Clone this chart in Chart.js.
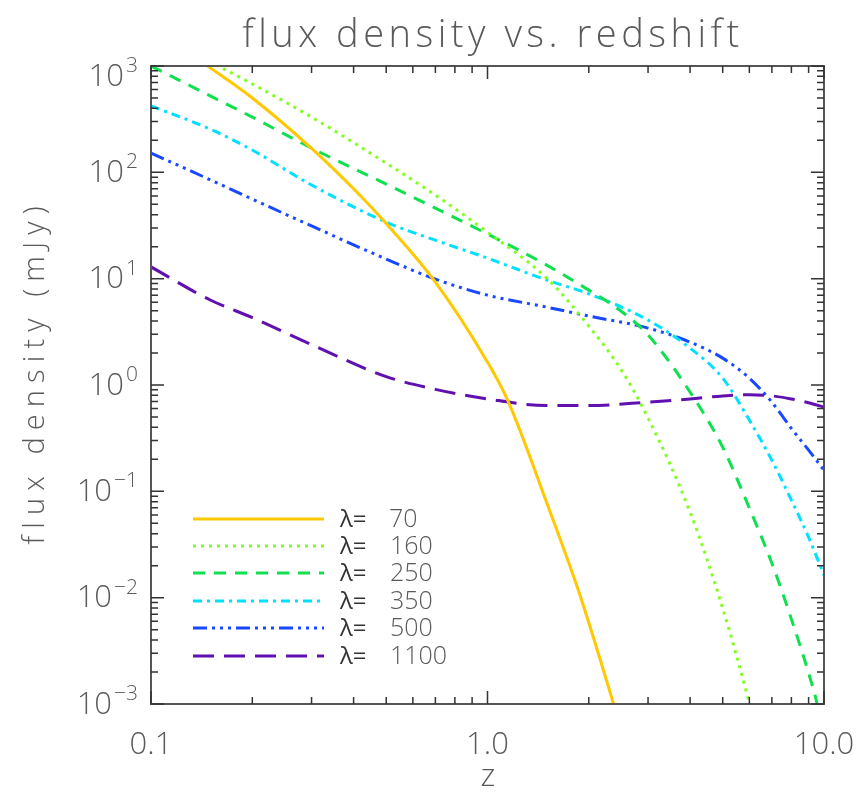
<!DOCTYPE html>
<html>
<head>
<meta charset="utf-8">
<script src="https://cdn.jsdelivr.net/npm/chart.js@4"></script>
<style>
html, body { margin: 0; padding: 0; background: #fff; }
#wrap { width: 862px; height: 795px; }
</style>
</head>
<body>
<div id="wrap"><canvas id="c" width="862" height="795"></canvas></div>
<script>
// wavelengths (micron) of the curves
const lambdas = [70, 160, 250, 350, 500, 1100];

// redshift samples and flux density (mJy)
const z70 = [0.1, 0.15, 0.2, 0.3, 0.4, 0.5, 0.7, 1.0, 1.15, 1.5, 1.88, 2.37, 2.6];
const f70 = [2300, 960, 500, 168, 70, 33, 9.3, 1.64, 0.71, 0.078, 0.0107, 0.001, 0.00037];

const z160 = [0.1, 0.15, 0.2, 0.3, 0.5, 0.7, 1.0, 1.5, 2.0, 2.5, 3, 4, 5, 6, 6.5];
const f160 = [2000, 1090, 678, 331, 122, 61, 27.4, 10.1, 3.58, 1.38, 0.489, 0.0637, 0.00796, 0.00102, 0.00037];

const z250 = [0.1, 0.15, 0.2, 0.3, 0.5, 0.7, 1.0, 1.5, 2, 2.47, 3, 4, 5, 6, 7, 8, 9, 9.57, 9.8];
const f250 = [1000, 523, 331, 169, 77.6, 46.1, 26.3, 13.4, 7.8, 5.07, 2.95, 0.857, 0.26, 0.0695, 0.0211, 0.00628, 0.00195, 0.00095, 0.0006];

const z350 = [0.1, 0.15, 0.2, 0.3, 0.5, 0.7, 1.0, 1.5, 2, 3, 4, 5, 6, 7, 8, 9, 10];
const f350 = [421, 255, 162, 76, 34, 23, 15.6, 9.7, 7.2, 4.08, 2.22, 1.16, 0.468, 0.196, 0.0826, 0.037, 0.0163];

const z500 = [0.1, 0.15, 0.2, 0.3, 0.5, 0.7, 1.0, 1.5, 2, 3, 4, 5, 6, 7, 8, 9, 10];
const f500 = [152, 85, 56, 31.3, 15.3, 9.9, 7.0, 5.4, 4.45, 3.43, 2.53, 1.79, 1.16, 0.69, 0.39, 0.244, 0.158];

const z1100 = [0.1, 0.15, 0.2, 0.3, 0.5, 0.7, 1.0, 1.5, 2, 3, 4, 5, 6, 7, 8, 9, 10];
const f1100 = [12.9, 6.3, 4.3, 2.4, 1.2, 0.91, 0.74, 0.64, 0.64, 0.69, 0.74, 0.79, 0.81, 0.79, 0.74, 0.68, 0.62];

// axis ticks
const xMajor = [0.1, 1, 10];
const xLabels = ["0.1", "1.0", "10.0"];
const xMinor = [0.2, 0.3, 0.4, 0.5, 0.6, 0.7, 0.8, 0.9, 2, 3, 4, 5, 6, 7, 8, 9];
const yExponents = [-3, -2, -1, 0, 1, 2, 3];

const colors = ["#ffc800", "#80ff20", "#10e050", "#00e0ff", "#1848ff", "#6010b0"];
const dashes = [[], [3, 5], [12, 9], [9, 5, 3, 5], [14, 5, 3, 5, 3, 5, 3, 5], [21, 10]];

const TXT = "#5a5a5a";
const FONT = '"Open Sans", "DejaVu Sans", sans-serif';

function pts(zs, fs) {
  return zs.map((z, i) => ({ x: z, y: fs[i] }));
}
const series = [[z70, f70], [z160, f160], [z250, f250], [z350, f350], [z500, f500], [z1100, f1100]];

// text stretched to a given width, like the wide plotting font of the original
function wideText(ctx, s, x, y, width) {
  ctx.letterSpacing = "0px";
  const w = ctx.measureText(s).width;
  const sp = (width - w) / (s.length - 1);
  ctx.letterSpacing = sp + "px";
  ctx.fillText(s, x + sp / 2, y);
  ctx.letterSpacing = "0px";
}

const frame = {
  id: "frame",
  afterDatasetsDraw(chart) {
    const { ctx, chartArea: a, scales: { x, y } } = chart;
    ctx.save();

    // box
    ctx.strokeStyle = "#555";
    ctx.lineWidth = 2;
    ctx.strokeRect(a.left, a.top, a.right - a.left, a.bottom - a.top);

    // inward ticks on all four sides
    ctx.strokeStyle = "#333";
    ctx.lineWidth = 1.5;
    ctx.beginPath();
    const xt = (v, len) => {
      const px = x.getPixelForValue(v);
      ctx.moveTo(px, a.bottom); ctx.lineTo(px, a.bottom - len);
      ctx.moveTo(px, a.top); ctx.lineTo(px, a.top + len);
    };
    const yt = (v, len) => {
      const py = y.getPixelForValue(v);
      ctx.moveTo(a.left, py); ctx.lineTo(a.left + len, py);
      ctx.moveTo(a.right, py); ctx.lineTo(a.right - len, py);
    };
    xMajor.forEach(v => xt(v, 13));
    xMinor.forEach(v => xt(v, 7));
    yExponents.forEach(e => {
      yt(Math.pow(10, e), 13);
      if (e < 3) for (let m = 2; m <= 9; m++) yt(m * Math.pow(10, e), 7);
    });
    ctx.stroke();

    ctx.fillStyle = TXT;

    // x tick labels
    ctx.font = "300 31px " + FONT;
    ctx.textAlign = "center";
    ctx.textBaseline = "middle";
    xMajor.forEach((v, i) => {
      ctx.fillText(xLabels[i], x.getPixelForValue(v), 745);
    });

    // y tick labels 10^n
    ctx.textAlign = "right";
    yExponents.forEach(e => {
      let py = y.getPixelForValue(Math.pow(10, e));
      if (e === 3) py += 10;
      const sup = e < 0 ? "\u2212" + (-e) : String(e);
      ctx.font = "300 21px " + FONT;
      ctx.textBaseline = "alphabetic";
      const sw = ctx.measureText(sup).width;
      ctx.fillText(sup, 138, py - 4);
      ctx.font = "300 31px " + FONT;
      ctx.textBaseline = "middle";
      ctx.fillText("10", 138 - sw - 2, py + 1);
    });

    // title and axis titles
    ctx.textAlign = "left";
    ctx.textBaseline = "alphabetic";
    ctx.font = "300 38px " + FONT;
    wideText(ctx, "flux density vs. redshift", 240, 47, 497);

    ctx.font = "300 32px " + FONT;
    ctx.textAlign = "center";
    ctx.fillText("z", 488, 786);

    ctx.save();
    ctx.translate(44, 548);
    ctx.rotate(-Math.PI / 2);
    ctx.textAlign = "left";
    ctx.font = "300 29px " + FONT;
    wideText(ctx, "flux density (mJy)", 0, 0, 338);
    ctx.restore();

    // legend
    const rowY = [519, 546, 573, 601, 628, 656];
    chart.data.datasets.forEach((ds, i) => {
      const ly = rowY[i];
      ctx.strokeStyle = ds.borderColor;
      ctx.lineWidth = ds.borderWidth;
      ctx.setLineDash(ds.borderDash);
      ctx.beginPath();
      ctx.moveTo(193, ly);
      ctx.lineTo(324, ly);
      ctx.stroke();
      ctx.setLineDash([]);
      ctx.textAlign = "left";
      ctx.textBaseline = "middle";
      ctx.fillStyle = "#333";
      ctx.font = "400 24px " + FONT;
      ctx.fillText("\u03bb=", 340, ly + 1);
      ctx.fillStyle = TXT;
      ctx.font = "300 25px " + FONT;
      ctx.fillText(String(lambdas[i]), lambdas[i] < 100 ? 389 : 390, ly + 1);
    });

    ctx.restore();
  }
};

new Chart(document.getElementById("c"), {
  type: "line",
  data: {
    datasets: series.map((s, i) => ({
      label: "\u03bb= " + lambdas[i],
      data: pts(s[0], s[1]),
      borderColor: colors[i],
      borderWidth: 3,
      borderDash: dashes[i],
      borderCapStyle: "butt",
      pointRadius: 0,
      fill: false,
      cubicInterpolationMode: "monotone"
    }))
  },
  options: {
    responsive: false,
    animation: false,
    devicePixelRatio: 1,
    layout: { padding: { left: 151, right: 38, top: 66, bottom: 91 } },
    scales: {
      x: { type: "logarithmic", min: 0.1, max: 10, display: false },
      y: { type: "logarithmic", min: 0.001, max: 1000, display: false }
    },
    plugins: { legend: { display: false }, tooltip: { enabled: false } }
  },
  plugins: [frame]
});
</script>
</body>
</html>
